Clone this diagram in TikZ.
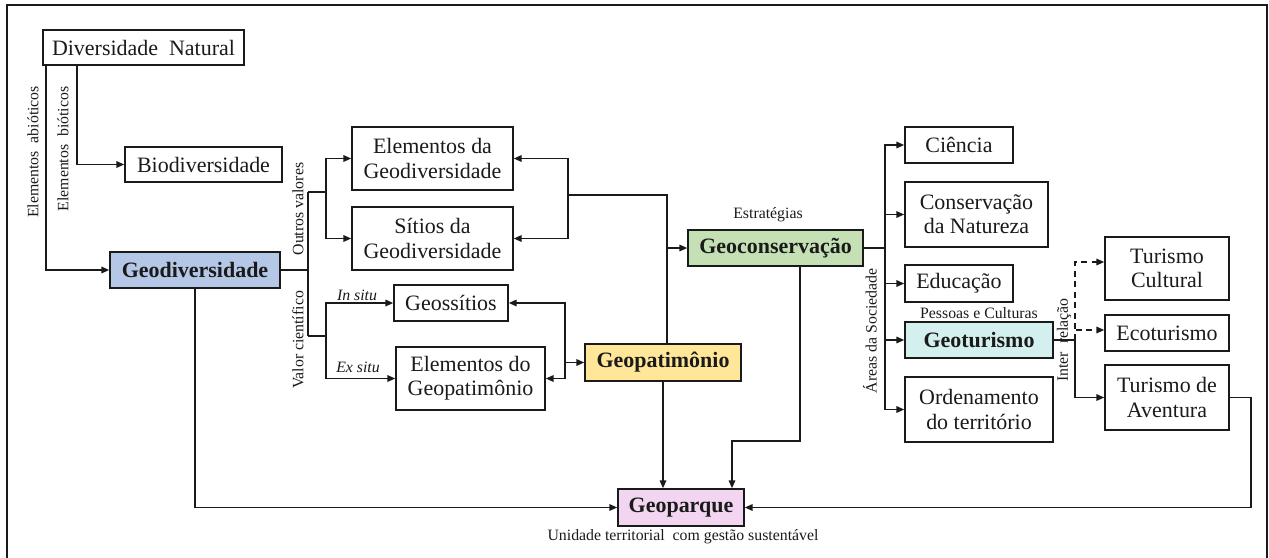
\documentclass[tikz,border=0pt]{standalone}
\usepackage{fontspec}
\setmainfont{Liberation Serif}
\usetikzlibrary{arrows.meta,calc}
\definecolor{blackmain}{HTML}{1A1A1A}
\definecolor{bluegeo}{HTML}{B4C7E7}
\definecolor{greencons}{HTML}{C5E0B4}
\definecolor{yellowpat}{HTML}{FFE699}
\definecolor{tealtur}{HTML}{D3F0EE}
\definecolor{pinkpark}{HTML}{F2D5F0}
\tikzset{every node/.append style={font=\rmfamily}}

\begin{document}
\begin{tikzpicture}[x=0.02cm,y=-0.02cm,>={Triangle[length=4.5pt,width=3.6pt]},
  box/.style={draw=blackmain,line width=0.75pt,text=blackmain,align=center,inner sep=0pt,
    font=\fontsize{12.5}{13.7}\selectfont},
  keybox/.style={box,font=\fontsize{12.5}{13.7}\selectfont\bfseries},
  link/.style={draw=blackmain,line width=1.1pt},
  dashlink/.style={link,dash pattern=on 3.5pt off 2.5pt},
  note/.style={text=blackmain,inner sep=0pt,font=\fontsize{9}{10}\selectfont},
  italnote/.style={note,font=\fontsize{9}{10}\selectfont\itshape}]
  \useasboundingbox (0,0) rectangle (1269,558);
  \draw[blackmain,line width=1.2pt] (7,558) -- (7,5) -- (1267,5) -- (1267,558);

  \node[box,minimum width=4.02cm,minimum height=0.70cm] (natural) at (143.5,47.5) {Diversidade\ \ Natural};
  \node[box,minimum width=3.14cm,minimum height=0.70cm] (bio) at (203.5,164.5) {Biodiversidade};
  \node[keybox,fill=bluegeo,minimum width=3.40cm,minimum height=0.72cm] (geodiv) at (195,270) {Geodiversidade};
  \node[box,minimum width=3.22cm,minimum height=1.26cm] (elemgeo) at (432.5,158.5) {Elementos\ da\\Geodiversidade};
  \node[box,minimum width=3.22cm,minimum height=1.26cm] (sitios) at (432.5,238.5) {Sítios da\\Geodiversidade};
  \node[box,minimum width=2.28cm,minimum height=0.72cm] (geossitios) at (451,303) {Geossítios};
  \node[box,minimum width=2.98cm,minimum height=1.26cm] (elempat) at (470.5,378.5) {Elementos do\\Geopatimônio};
  \node[keybox,fill=yellowpat,minimum width=3.12cm,minimum height=0.74cm] (geopat) at (663,362.5) {Geopatimônio};
  \node[keybox,fill=greencons,minimum width=3.50cm,minimum height=0.72cm] (geocons) at (775.5,248) {Geoconservação};
  \node[box,minimum width=2.16cm,minimum height=0.72cm] (ciencia) at (959,145) {Ciência};
  \node[box,minimum width=2.86cm,minimum height=1.30cm] (natureza) at (976.5,214.5) {Conservação\\da Natureza};
  \node[box,minimum width=2.16cm,minimum height=0.74cm] (educacao) at (959,283.5) {Educação};
  \node[keybox,fill=tealtur,minimum width=2.96cm,minimum height=0.72cm] (geotur) at (979,340) {Geoturismo};
  \node[box,minimum width=2.96cm,minimum height=1.30cm] (territorio) at (979,409.5) {Ordenamento\\do território};
  \node[box,minimum width=2.48cm,minimum height=1.26cm] (cultural) at (1167,268.5) {Turismo\\Cultural};
  \node[box,minimum width=2.48cm,minimum height=0.72cm] (ecotur) at (1167,333) {Ecoturismo};
  \node[box,minimum width=2.48cm,minimum height=1.30cm] (aventura) at (1167,397.5) {Turismo de\\Aventura};
  \node[keybox,fill=pinkpark,minimum width=2.52cm,minimum height=0.74cm] (geoparque) at (681,507.5) {Geoparque};

  \node[note,rotate=90] (abioticos) at (33,152) {Elementos\ \ abióticos};
  \node[note,rotate=90] (bioticos) at (63,149) {Elementos\ \ bióticos};
  \node[note,rotate=90] (outros) at (298,209) {Outros valores};
  \node[note,rotate=90] (valor) at (298,340) {Valor científico};
  \node[italnote] (insitu) at (357,295) {In situ};
  \node[italnote] (exsitu) at (358,367) {Ex situ};
  \node[note] (estrategias) at (768,215) {Estratégias};
  \node[note,rotate=90] (areas) at (870,331) {Áreas da Sociedade};
  \node[note] (pessoas) at (979,313) {Pessoas e Culturas};
  \node[note,rotate=90] (inter) at (1064,340) {Inter\enspace relação};
  \node[note] (unidade) at (683,537) {Unidade territorial\ \ com gestão sustentável};

  \coordinate (jgeo) at (308,270);
  \coordinate (jout) at (326,192);
  \coordinate (jval) at (326,336);
  \coordinate (jpat) at (568,195);
  \coordinate (jsit) at (565,362.5);
  \coordinate (jcons) at ([xshift=0.08cm]geopat.north |- geocons.west);
  \coordinate (jdrop) at (732,441);
  \coordinate (jright) at (1251,507.5);
  \coordinate (jarea) at (885,248);
  \coordinate (jtur) at (1075,340);

  \draw[link,->] ([xshift=0.08cm]natural.south west) |- (geodiv.west);
  \draw[link,->] ([xshift=0.7cm]natural.south west) |- (bio.west);

  \draw[link] (geodiv.east) -- (jgeo);
  \draw[link] (jgeo |- jout) -- (jgeo |- jval);
  \draw[link] (jgeo |- jout) -- (jout);
  \draw[link,->] (jout) |- (elemgeo.west);
  \draw[link,->] (jout) |- (sitios.west);
  \draw[link] (jgeo |- jval) -- (jval);
  \draw[link,->] (jval) |- (geossitios.west);
  \draw[link,->] (jval) |- (elempat.west);

  \draw[link] ([xshift=0.08cm]geopat.north) |- (jpat);
  \draw[link,->] (jpat) |- (elemgeo.east);
  \draw[link,->] (jpat) |- (sitios.east);
  \draw[link,->] (jcons) -- (geocons.west);
  \draw[link,->] (jsit) -- (geopat.west);
  \draw[link,->] (jsit) |- (geossitios.east);
  \draw[link,->] (jsit) |- (elempat.east);

  \draw[link,->] ([xshift=0.49cm]geocons.south) |- (jdrop) -- (jdrop |- geoparque.north);
  \draw[link,->] (geopat.south) -- (geopat.south |- geoparque.north);
  \draw[link,->] (geodiv.south) |- (geoparque.west);
  \draw[link,->] (aventura.east) -| (jright) -- (geoparque.east);

  \draw[link] (geocons.east) -- (jarea);
  \foreach \dest in {ciencia,natureza,educacao,geotur,territorio}
    \draw[link,->] (jarea) |- (\dest.west);

  \draw[link] (geotur.east) -- (jtur);
  \draw[link,->] (jtur) |- (aventura.west);
  \draw[dashlink,->] (jtur) |- ([yshift=0.13cm]cultural.west);
  \draw[dashlink,->] (jtur) |- ([yshift=0.06cm]ecotur.west);
\end{tikzpicture}
\end{document}
